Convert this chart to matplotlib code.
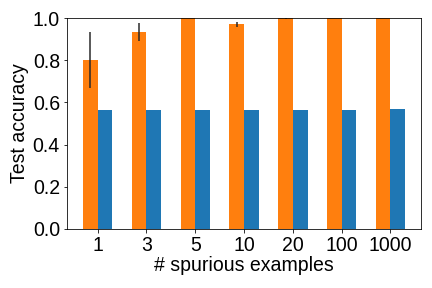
import numpy as np
import matplotlib.pyplot as plt

plt.rcParams["font.family"] = ["Liberation Sans", "DejaVu Sans"]

labels = ["1", "3", "5", "10", "20", "100", "1000"]
orange_acc = [0.80, 0.933, 1.0, 0.97, 1.0, 1.0, 1.0]
orange_err = [0.133, 0.044, 0.0, 0.013, 0.004, 0.0, 0.0]
blue_acc = [0.564, 0.564, 0.564, 0.564, 0.564, 0.564, 0.569]
blue_err = [0.002, 0.0, 0.002, 0.0, 0.0, 0.0, 0.0]

x = np.arange(len(labels))
w = 0.3

fig = plt.figure(figsize=(6, 4), dpi=72)
ax = fig.add_axes([0.155, 0.205, 0.82, 0.7325])
ax.bar(x - w / 2, orange_acc, w, yerr=orange_err, color="#ff7f0e",
       error_kw=dict(ecolor="#262626", elinewidth=1.5))
ax.bar(x + w / 2, blue_acc, w, yerr=blue_err, color="#1f77b4",
       error_kw=dict(ecolor="#262626", elinewidth=1.5))
ax.set_xticks(x)
ax.set_xticklabels(labels)
ax.set_ylim(0, 1)
ax.tick_params(labelsize=19.5)
ax.set_xlabel("# spurious examples", fontsize=19.5, labelpad=1)
ax.set_ylabel("Test accuracy", fontsize=19.5, labelpad=4)
fig.savefig("out.png", dpi=72)
